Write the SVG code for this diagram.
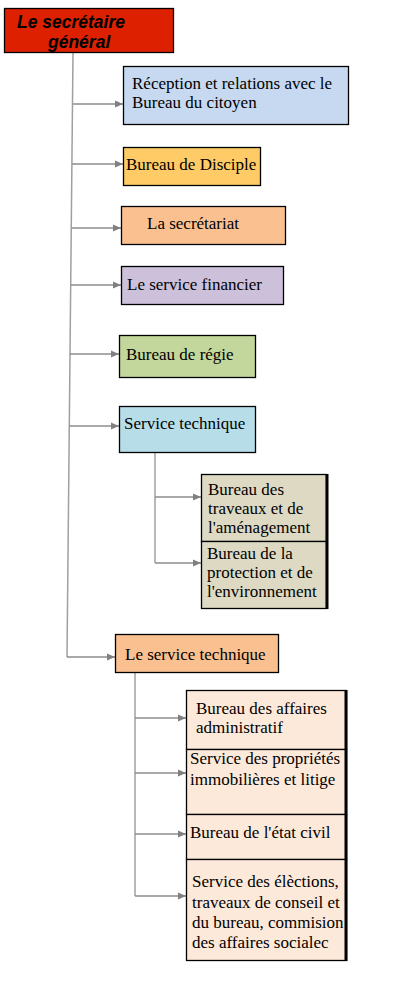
<svg xmlns="http://www.w3.org/2000/svg" width="407" height="981" viewBox="0 0 407 981">
<defs>
<marker id="ah" markerWidth="8" markerHeight="8" refX="8" refY="4" orient="auto" markerUnits="userSpaceOnUse">
<path d="M0,0.5 L8,4 L0,7.5 Z" fill="#808080"/>
</marker>
</defs>
<style>
.t{font-family:"Liberation Serif","Times New Roman",serif;font-size:17px;fill:#000}
.b{stroke:#000;stroke-width:1.3}
.c{stroke:#a0a0a0;stroke-width:1.5;fill:none}
.a{stroke:#8c8c8c;stroke-width:1.3;fill:none;marker-end:url(#ah)}
.h{font-family:"Liberation Sans",Arial,sans-serif;font-size:17.5px;font-weight:bold;font-style:italic;fill:#000}
</style>
<rect width="407" height="981" fill="#fff"/>
<g id="connectors">
<line class="c" x1="73" y1="53" x2="67" y2="657"/>
<line class="a" x1="73" y1="104" x2="123" y2="104"/>
<line class="a" x1="72" y1="164" x2="123" y2="164"/>
<line class="a" x1="72" y1="228" x2="121" y2="228"/>
<line class="a" x1="71" y1="285" x2="121" y2="285"/>
<line class="a" x1="70" y1="354" x2="119" y2="354"/>
<line class="a" x1="69" y1="426" x2="119" y2="426"/>
<line class="a" x1="67" y1="657" x2="115" y2="657"/>
<line class="c" x1="155" y1="453" x2="155" y2="563"/>
<line class="a" x1="155" y1="497" x2="201" y2="497"/>
<line class="a" x1="155" y1="563" x2="201" y2="563"/>
<line class="c" x1="135" y1="672" x2="135" y2="896"/>
<line class="a" x1="135" y1="718" x2="186" y2="718"/>
<line class="a" x1="135" y1="773" x2="186" y2="773"/>
<line class="a" x1="135" y1="834" x2="186" y2="834"/>
<line class="a" x1="135" y1="896" x2="186" y2="896"/>
</g>
<g id="root">
<rect class="b" x="4.5" y="8.5" width="169" height="44" fill="#dd2000"/>
<text class="h" x="17" y="28">Le secrétaire</text>
<text class="h" x="48" y="48">général</text>
</g>
<g id="reception">
<rect class="b" x="123.5" y="66.5" width="225" height="58" fill="#c6d9f1"/>
<text class="t" x="132" y="89">Réception et relations avec le</text>
<text class="t" x="132" y="108">Bureau du citoyen</text>
</g>
<g id="discipline">
<rect class="b" x="123.5" y="147.5" width="137" height="38" fill="#fecb66"/>
<text class="t" x="126" y="170">Bureau de Disciple</text>
</g>
<g id="secretariat">
<rect class="b" x="121.5" y="206.5" width="164" height="38" fill="#fac090"/>
<text class="t" x="147" y="229">La secrétariat</text>
</g>
<g id="financier">
<rect class="b" x="121.5" y="266.5" width="162" height="38" fill="#ccc0da"/>
<text class="t" x="127" y="290">Le service financier</text>
</g>
<g id="regie">
<rect class="b" x="119.5" y="335.5" width="136" height="42" fill="#c3d69b"/>
<text class="t" x="126" y="360">Bureau de régie</text>
</g>
<g id="service-technique">
<rect class="b" x="119.5" y="406.5" width="136" height="46" fill="#b7dde8"/>
<text class="t" x="124" y="429">Service technique</text>
</g>
<g id="travaux">
<rect class="b" x="201.5" y="474.5" width="125" height="67" fill="#ddd9c3"/>
<line x1="327" y1="474" x2="327" y2="541" stroke="#000" stroke-width="3"/>
<text class="t" x="208" y="495">Bureau des</text>
<text class="t" x="208" y="514">traveaux et de</text>
<text class="t" x="208" y="533">l'aménagement</text>
</g>
<g id="environnement">
<rect class="b" x="201.5" y="541.5" width="125" height="67" fill="#ddd9c3"/>
<line x1="327" y1="541" x2="327" y2="609" stroke="#000" stroke-width="3"/>
<text class="t" x="207" y="559">Bureau de la</text>
<text class="t" x="207" y="578">protection et de</text>
<text class="t" x="207" y="597">l'environnement</text>
</g>
<g id="le-service-technique">
<rect class="b" x="115.5" y="634.5" width="163" height="38" fill="#fac090"/>
<text class="t" x="125" y="660">Le service technique</text>
</g>
<g id="affaires-admin">
<rect class="b" x="186.5" y="690.5" width="160" height="59" fill="#fde9d9"/>
<line x1="346" y1="690" x2="346" y2="749" stroke="#000" stroke-width="3"/>
<text class="t" x="196" y="714">Bureau des affaires</text>
<text class="t" x="196" y="733">administratif</text>
</g>
<g id="proprietes">
<rect class="b" x="186.5" y="749.5" width="160" height="65" fill="#fde9d9"/>
<line x1="346" y1="749" x2="346" y2="814" stroke="#000" stroke-width="3"/>
<text class="t" x="190" y="764">Service des propriétés</text>
<text class="t" x="190" y="785">immobilières et litige</text>
</g>
<g id="etat-civil">
<rect class="b" x="186.5" y="814.5" width="160" height="45" fill="#fde9d9"/>
<line x1="346" y1="814" x2="346" y2="859" stroke="#000" stroke-width="3"/>
<text class="t" x="190" y="838">Bureau de l'état civil</text>
</g>
<g id="elections">
<rect class="b" x="186.5" y="859.5" width="160" height="101" fill="#fde9d9"/>
<line x1="346" y1="859" x2="346" y2="961" stroke="#000" stroke-width="3"/>
<text class="t" x="192" y="887">Service des élèctions,</text>
<text class="t" x="192" y="908">traveaux de conseil et</text>
<text class="t" x="192" y="928">du bureau, commision</text>
<text class="t" x="192" y="948">des affaires socialec</text>
</g>
</svg>
